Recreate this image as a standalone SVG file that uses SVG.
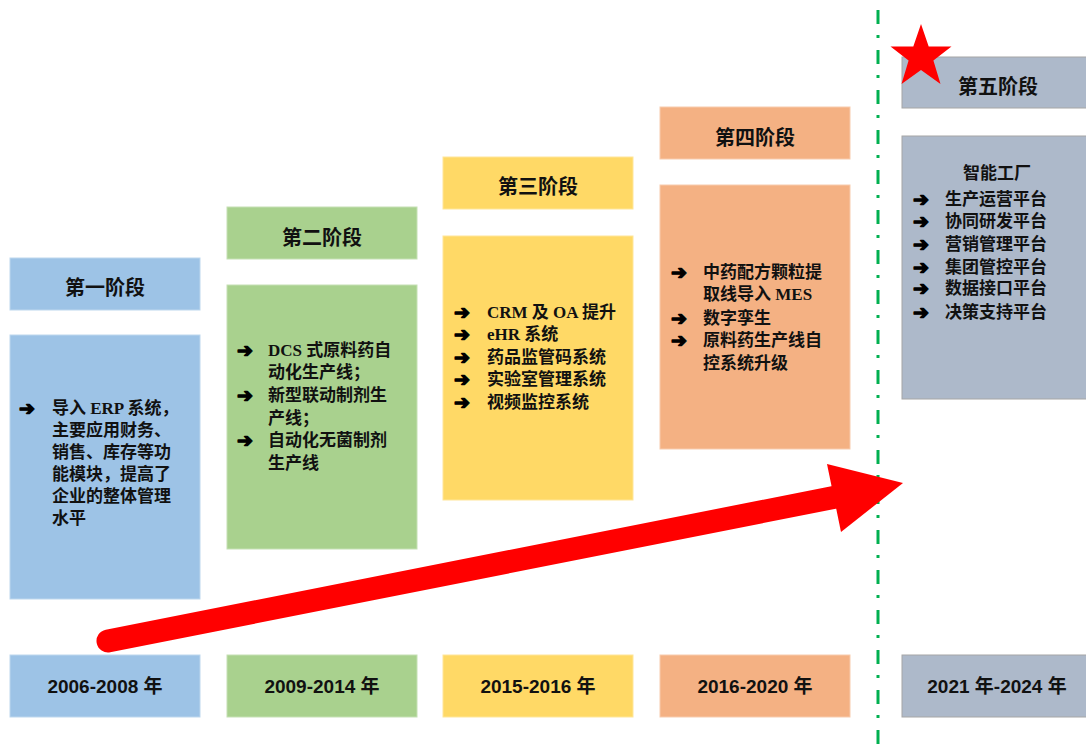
<svg xmlns="http://www.w3.org/2000/svg" width="1086" height="754" viewBox="0 0 1086 754">
<style>
.hd{font-family:"Noto Sans CJK SC",sans-serif;font-weight:700;font-size:20px;fill:#111;text-anchor:middle}
.bd{font-family:"Liberation Serif","Noto Sans CJK SC",serif;font-weight:700;font-size:17px;fill:#111}
.ar{font-family:"DejaVu Sans",sans-serif;font-weight:700;font-size:19px;fill:#000;stroke:#000;stroke-width:1.3;stroke-linejoin:round}
.yr{font-family:"Liberation Sans Narrow","Liberation Sans","Noto Sans CJK SC",sans-serif;font-weight:700;font-size:19px;fill:#111;text-anchor:middle}
.c1{fill:#9DC3E6;stroke:#BDD7EE;stroke-width:1}
.c2{fill:#A9D18E;stroke:#C5E0B4;stroke-width:1}
.c3{fill:#FFD966;stroke:#FFE699;stroke-width:1}
.c4{fill:#F4B183;stroke:#F8CBAD;stroke-width:1}
.c5{fill:#ADB9CA;stroke:#A6A6A6;stroke-width:1}
</style>
<rect width="1086" height="754" fill="#fff"/>

<g id="divider">
<line x1="878" y1="10" x2="878" y2="754" stroke="#00B050" stroke-width="3" stroke-dasharray="14 11 3 12"/>
</g>

<g id="stage1">
<rect class="c1" x="10" y="258" width="190" height="52"/>
<text class="hd" x="105" y="295">第一阶段</text>
<rect class="c1" x="10" y="335" width="190" height="264"/>
<text class="ar" x="19" y="415">➔</text>
<text class="bd" x="52" y="414">导入 ERP 系统，</text>
<text class="bd" x="52" y="436">主要应用财务、</text>
<text class="bd" x="52" y="458">销售、库存等功</text>
<text class="bd" x="52" y="480">能模块，提高了</text>
<text class="bd" x="52" y="502">企业的整体管理</text>
<text class="bd" x="52" y="524">水平</text>
<rect class="c1" x="10" y="655" width="190" height="62"/>
<text class="yr" x="105" y="693">2006-2008 年</text>
</g>

<g id="stage2">
<rect class="c2" x="227" y="207" width="190" height="52"/>
<text class="hd" x="322" y="245">第二阶段</text>
<rect class="c2" x="227" y="285" width="190" height="264"/>
<text class="ar" x="237" y="357">➔</text>
<text class="bd" x="268" y="356">DCS 式原料药自</text>
<text class="bd" x="268" y="378">动化生产线；</text>
<text class="ar" x="237" y="402">➔</text>
<text class="bd" x="268" y="401">新型联动制剂生</text>
<text class="bd" x="268" y="424">产线；</text>
<text class="ar" x="237" y="447">➔</text>
<text class="bd" x="268" y="446">自动化无菌制剂</text>
<text class="bd" x="268" y="469">生产线</text>
<rect class="c2" x="227" y="655" width="190" height="62"/>
<text class="yr" x="322" y="693">2009-2014 年</text>
</g>

<g id="stage3">
<rect class="c3" x="443" y="157" width="190" height="52"/>
<text class="hd" x="538" y="194">第三阶段</text>
<rect class="c3" x="443" y="236" width="190" height="264"/>
<text class="ar" x="454" y="319">➔</text>
<text class="bd" x="487" y="318">CRM 及 OA 提升</text>
<text class="ar" x="454" y="341">➔</text>
<text class="bd" x="487" y="340">eHR 系统</text>
<text class="ar" x="454" y="364">➔</text>
<text class="bd" x="487" y="363">药品监管码系统</text>
<text class="ar" x="454" y="386">➔</text>
<text class="bd" x="487" y="385">实验室管理系统</text>
<text class="ar" x="454" y="409">➔</text>
<text class="bd" x="487" y="408">视频监控系统</text>
<rect class="c3" x="443" y="655" width="190" height="62"/>
<text class="yr" x="538" y="693">2015-2016 年</text>
</g>

<g id="stage4">
<rect class="c4" x="660" y="107" width="190" height="52"/>
<text class="hd" x="755" y="145">第四阶段</text>
<rect class="c4" x="660" y="185" width="190" height="264"/>
<text class="ar" x="671" y="279">➔</text>
<text class="bd" x="703" y="278">中药配方颗粒提</text>
<text class="bd" x="703" y="300">取线导入 MES</text>
<text class="ar" x="671" y="325">➔</text>
<text class="bd" x="703" y="324">数字孪生</text>
<text class="ar" x="671" y="347">➔</text>
<text class="bd" x="703" y="346">原料药生产线自</text>
<text class="bd" x="703" y="369">控系统升级</text>
<rect class="c4" x="660" y="655" width="190" height="62"/>
<text class="yr" x="755" y="693">2016-2020 年</text>
</g>

<g id="stage5">
<rect class="c5" x="902" y="57" width="190" height="51"/>
<text class="hd" x="998" y="94">第五阶段</text>
<rect class="c5" x="902" y="136" width="190" height="263"/>
<text class="bd" x="997" y="179" text-anchor="middle">智能工厂</text>
<text class="ar" x="913" y="206">➔</text>
<text class="bd" x="945" y="205">生产运营平台</text>
<text class="ar" x="913" y="228">➔</text>
<text class="bd" x="945" y="227">协同研发平台</text>
<text class="ar" x="913" y="251">➔</text>
<text class="bd" x="945" y="250">营销管理平台</text>
<text class="ar" x="913" y="274">➔</text>
<text class="bd" x="945" y="273">集团管控平台</text>
<text class="ar" x="913" y="295">➔</text>
<text class="bd" x="945" y="294">数据接口平台</text>
<text class="ar" x="913" y="319">➔</text>
<text class="bd" x="945" y="318">决策支持平台</text>
<rect class="c5" x="902" y="655" width="190" height="62"/>
<text class="yr" x="997" y="693">2021 年-2024 年</text>
</g>

<g id="star">
<polygon fill="#FF0000" points="921,24 928.7,46.6 951.5,46.4 933.4,60.4 940.5,84 921,70 901.5,84 908.6,60.4 890.5,46.4 913.3,46.6"/>
</g>

<g id="connectors">
<line x1="108" y1="641" x2="836" y2="497" stroke="#FF0000" stroke-width="23" stroke-linecap="round"/>
<polygon fill="#FF0000" points="827,464 903,483 841,532"/>
</g>
</svg>
